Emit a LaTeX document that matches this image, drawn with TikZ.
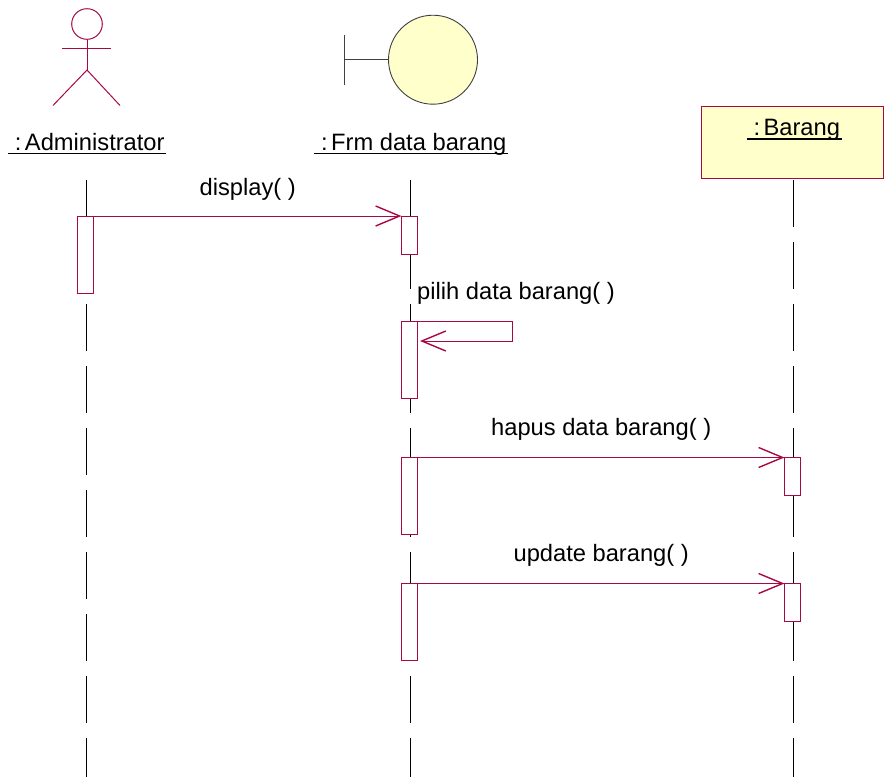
\documentclass[tikz,border=0pt]{standalone}
\usepackage{fontspec}
\setmainfont{Liberation Sans}
\usetikzlibrary{arrows.meta}
\usetikzlibrary{positioning}

\definecolor{umlred}{RGB}{168,8,69}
\definecolor{umlyellow}{RGB}{255,255,204}

% underlined object name, the rule runs through the descenders
\newcommand{\objname}[1]{\setbox0=\hbox{\hspace{7pt}:\hspace{3.5pt}#1\hspace{1.5pt}}\rlap{\rule[-4.4pt]{\wd0}{1.7pt}}\box0}

\begin{document}
\begin{tikzpicture}[x=1pt, y=-1pt, node distance=36pt]
    % Define styles
    \tikzstyle{umlline} = [draw=umlred, line width=1pt]
    \tikzstyle{lifeline} = [draw=black, line width=0.9pt, dash pattern=on 47pt off 15pt]
    \tikzstyle{activation} = [rectangle, draw=umlred, fill=white, line width=1pt, inner sep=0pt, outer sep=0pt, minimum width=16.5pt]
    \tikzstyle{message} = [umlline, -{Straight Barb[length=24pt, width=20pt, line width=1.4pt]}]
    \tikzstyle{msglabel} = [anchor=base, inner sep=0pt, font=\fontsize{23.7}{28}\selectfont]
    \tikzstyle{objlabel} = [anchor=base, inner sep=0pt, font=\fontsize{23.7}{28}\selectfont]

    \useasboundingbox (0,0) rectangle (887,777);

    % Actor
    \node[circle, umlline, minimum size=30.6pt, inner sep=0pt] (actorHead) at (87,24) {};
    \coordinate (actorHip) at (87,70);
    \draw[umlline] (actorHead) -- (actorHip);
    \draw[umlline] (62,48) -- (111,48);
    \draw[umlline] (53,105.5) -- (actorHip) -- (120,105.5);
    \node[objlabel] (admin) at (87,150) {\objname{Administrator}};

    % Boundary
    \node[circle, draw=black!75, fill=umlyellow, line width=0.9pt, minimum size=89pt, inner sep=0pt] (frmCircle) at (433,59.7) {};
    \coordinate (frmBar) at (344.3,59.7);
    \draw[black!75, line width=0.9pt] (frmBar) -- (frmCircle);
    \draw[black!75, line width=0.9pt] (344.3,35) -- (344.3,85);
    \node[objlabel] (frm) at (411,150) {\objname{Frm data barang}};

    % Entity object
    \node[rectangle, umlline, fill=umlyellow, minimum width=182.5pt, minimum height=72pt, inner sep=0pt] (barangBox) at (792.5,142) {};
    \node[objlabel] (barang) at (794,135.5) {\objname{Barang}};

    % Lifelines
    \coordinate (adminTop) at (86.3,180);
    \coordinate (frmTop) at (410.3,180);
    \coordinate (barangTop) at (793.3,180);
    \draw[lifeline] (adminTop) -- (86.3,777);
    \draw[lifeline] (frmTop) -- (410.3,777);
    \draw[lifeline] (barangTop) -- (793.3,777);

    % Activations
    \node[activation, minimum height=77pt, below=36pt of adminTop, xshift=-0.6pt] (adminDisplay) {};
    \node[activation, minimum height=38pt, below=36pt of frmTop, xshift=-0.6pt] (frmDisplay) {};
    \node[activation, minimum height=77pt, below=67pt of frmDisplay] (frmPilih) {};
    \node[activation, minimum height=77pt, below=59.5pt of frmPilih] (frmHapus) {};
    \node[activation, minimum height=77pt, below=49pt of frmHapus] (frmUpdate) {};
    \node[activation, minimum height=38pt, below=277.5pt of barangTop, xshift=-0.6pt] (barangHapus) {};
    \node[activation, minimum height=38pt, below=88pt of barangHapus] (barangUpdate) {};

    % Messages
    \draw[message] (adminDisplay.north east) -- node[msglabel, yshift=21pt] (msgDisplay) {display( )} (frmDisplay.north west);
    \coordinate (pilihTurn) at (512.5,321);
    \coordinate (pilihEnd) at (420,341);
    \draw[message] (frmPilih.north east) -- (pilihTurn) |- (pilihEnd);
    \node[msglabel] (msgPilih) at (516,299) {pilih data barang( )};
    \draw[message] (frmHapus.north east) -- node[msglabel, yshift=22pt] (msgHapus) {hapus data barang( )} (barangHapus.north west);
    \draw[message] (frmUpdate.north east) -- node[msglabel, yshift=22pt] (msgUpdate) {update barang( )} (barangUpdate.north west);

\end{tikzpicture}
\end{document}
